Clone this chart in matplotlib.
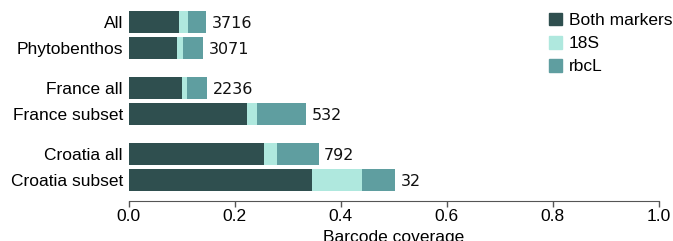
import matplotlib.pyplot as plt
from matplotlib.patches import Patch

categories = ["All", "Phytobenthos", "France all", "France subset", "Croatia all", "Croatia subset"]
positions = [0, 1, 2.54, 3.54, 5.08, 6.08]
both = [0.096, 0.091, 0.101, 0.223, 0.2545, 0.346]
s18 = [0.016, 0.012, 0.009, 0.019, 0.026, 0.094]
rbcl = [0.034, 0.037, 0.038, 0.093, 0.078, 0.062]
counts = [3716, 3071, 2236, 532, 792, 32]

colors = {"Both markers": "#2f4f4f", "18S": "#afe8de", "rbcL": "#5f9ea0"}

plt.rcParams["font.family"] = ["Liberation Sans", "DejaVu Sans"]

fig = plt.figure(figsize=(6.73, 2.41), dpi=100)
ax = fig.add_axes([128.5 / 673, 40 / 241, 530.5 / 673, 201 / 241])

h = 0.85
ax.barh(positions, both, height=h, color=colors["Both markers"], linewidth=0)
ax.barh(positions, s18, left=both, height=h, color=colors["18S"], linewidth=0)
left3 = [b + s for b, s in zip(both, s18)]
ax.barh(positions, rbcl, left=left3, height=h, color=colors["rbcL"], linewidth=0)

for p, b, s, r, n in zip(positions, both, s18, rbcl, counts):
    ax.annotate(str(n), (b + s + r, p), xytext=(4, -1), textcoords="offset points",
                va="center", ha="left", fontsize=11.5, family="DejaVu Sans", color="#111111")

ax.set_xlim(0, 1.0)
ax.set_ylim(6.88, -0.846)
ax.set_yticks(positions)
ax.set_yticklabels(categories, fontsize=12.5)
ax.tick_params(axis="y", length=0, pad=4)
ax.set_xticks([0, 0.2, 0.4, 0.6, 0.8, 1.0])
ax.set_xticklabels(["0.0", "0.2", "0.4", "0.6", "0.8", "1.0"], fontsize=12.5)
ax.tick_params(axis="x", length=4, width=1, color="#555555", pad=2)
ax.set_xlabel("Barcode coverage", fontsize=12.5, labelpad=4)
for side in ["top", "right", "left"]:
    ax.spines[side].set_visible(False)
ax.spines["bottom"].set_color("#555555")

handles = [Patch(color=c, label=k) for k, c in colors.items()]
ax.legend(handles=handles, loc="upper right", bbox_to_anchor=(1.055, 1.015), frameon=False,
          fontsize=12.5, handlelength=0.75, handleheight=0.75, handletextpad=0.4,
          labelspacing=0.45)

fig.savefig("out.png", dpi=100)
